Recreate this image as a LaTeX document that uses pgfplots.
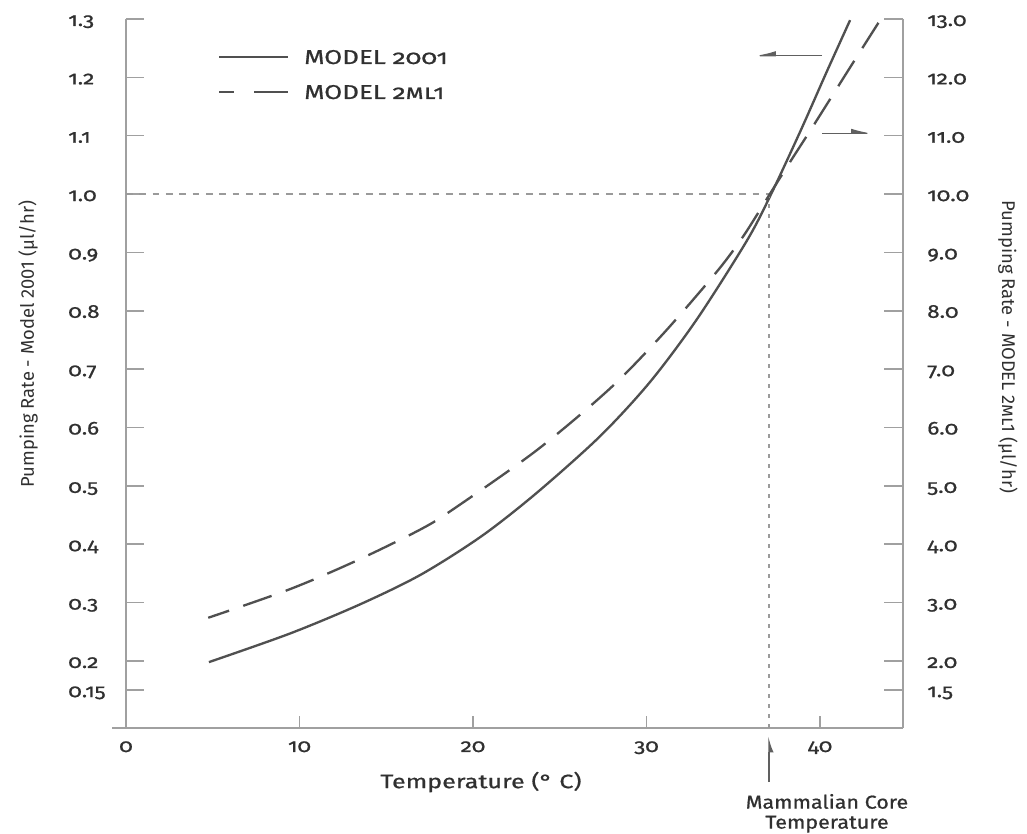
\documentclass[border=0pt]{standalone}
\usepackage{fontspec}
\setmainfont{Fira Sans}[Numbers=OldStyle]
\newfontfamily\tickfont{Fira Sans}[Numbers=OldStyle, FakeStretch=1.2, FakeBold=0.8]
\newfontfamily\labfont{Fira Sans}[Numbers=Lining]
\newfontfamily\widefont{Fira Sans}[Numbers=OldStyle, FakeStretch=1.3, FakeBold=0.8]
\newfontfamily\midfont{Fira Sans}[Numbers=OldStyle, FakeStretch=1.15, FakeBold=0.8]
\usepackage{pgfplots}
\pgfplotsset{compat=1.18}
\usetikzlibrary{arrows.meta}
\definecolor{axisgray}{HTML}{A0A0A0}
\definecolor{curve}{HTML}{505050}
\definecolor{txt}{HTML}{303030}
\definecolor{guide}{HTML}{9A9A9A}
\definecolor{arrowc}{HTML}{606060}
\begin{document}
\begin{tikzpicture}
% ---------- x axis ----------
\begin{axis}[
  at={(-10.5pt,0pt)}, anchor=south west, scale only axis,
  width=593.25pt, height=531.75pt,
  xmin=-0.807, xmax=44.78, ymin=0.0851, ymax=1.3,
  axis x line*=bottom, axis y line=none,
  axis line style={-, draw=axisgray, line width=2pt},
  xtick={0,10,20,30,40}, xticklabels={0,10,20,30,40},
  tick align=inside, major tick length=9pt,
  tick style={draw=axisgray, line width=1.1pt},
  xticklabel style={font=\tickfont\fontsize{14pt}{16pt}\selectfont, text=txt, anchor=base, yshift=-18pt, inner sep=0pt},
  xlabel={Temperature (° C)},
  xlabel style={at={(axis description cs:0.4665,-0.0762)}, anchor=center, font=\widefont\fontsize{14.5pt}{16pt}\selectfont, text=txt},
]
\end{axis}
% ---------- left y axis, Model 2001 ----------
\begin{axis}[
  at={(0pt,0pt)}, anchor=south west, scale only axis,
  width=582.75pt, height=531.75pt,
  xmin=0, xmax=44.78, ymin=0.0851, ymax=1.3,
  axis y line*=left, axis x line=none,
  axis line style={-, draw=axisgray, line width=2pt},
  ytick={0.15,0.2,0.3,0.4,0.5,0.6,0.7,0.8,0.9,1.0,1.1,1.2,1.3},
  yticklabels={0.15,0.2,0.3,0.4,0.5,0.6,0.7,0.8,0.9,1.0,1.1,1.2,1.3},
  tick align=inside, major tick length=13.5pt,
  tick style={draw=axisgray, line width=1.1pt},
  yticklabel style={font=\tickfont\fontsize{14pt}{16pt}\selectfont, text=txt, anchor=base west, xshift=-43.5pt, yshift=-5.25pt, inner sep=0pt},
  ylabel={Pumping Rate - Model 2001 (µl/hr)},
  ylabel style={at={(axis description cs:-0.1261,0.5416)}, anchor=center, font=\labfont\fontsize{13.8pt}{16pt}\selectfont, text=txt},
  clip=false,
  legend image code/.code={\draw[#1] (0pt,0pt) -- (51.75pt,0pt);},
  legend style={draw=none, fill=none, inner sep=0pt, row sep=15.75pt,
    at={(axis description cs:0.118,0.9217)}, anchor=west,
    font=\widefont\fontsize{15pt}{17pt}\selectfont, text=txt,
    nodes={inner sep=0pt, text height=10.5pt, text depth=0pt},
    /tikz/every odd column/.style={column sep=11.25pt}},
  legend cell align=left,
]
\addplot[draw=curve, line width=1.75pt, smooth] coordinates {
(4.78,0.198) (9.45,0.247) (13.49,0.297) (17.0,0.348) (20.5,0.414)
(23.67,0.488) (27.32,0.585) (30.20,0.678) (32.89,0.785) (35.78,0.920)
(37.18,1.000) (38.90,1.110) (40.39,1.210) (41.73,1.298)};
\addlegendentry{MODEL 2001}
\addlegendimage{draw=curve, line width=1.75pt, dash pattern=on 11.25pt off 15pt on 25.5pt off 5pt}
\addlegendentry{MODEL \textsc{2ml1}}
\addplot[guide, line width=1.1pt, dash pattern=on 5pt off 5pt, forget plot] coordinates {(0,1) (37.1,1)};
\addplot[guide, line width=1.1pt, dash pattern=on 3pt off 4.5pt, forget plot] coordinates {(37.05,1) (37.05,0.0851)};
\draw[arrowc, line width=0.9pt, -{Latex[right, length=15pt, width=7pt]}] (axis cs:40.12,1.237) -- (axis cs:36.08,1.237);
\draw[arrowc, line width=0.9pt, -{Latex[left, length=15pt, width=7pt]}] (axis cs:40.12,1.104) -- (axis cs:43.17,1.104);
\draw[arrowc, line width=1.1pt, -{Latex[right, length=10pt, width=7pt]}] ([yshift=-40.5pt]axis cs:37.06,0.0851) -- ([yshift=-6pt]axis cs:37.06,0.0851);
\node[align=center, font=\midfont\fontsize{14pt}{15pt}\selectfont, text=txt] at ([yshift=-64pt]axis cs:40.4,0.0851) {Mammalian Core\\Temperature};
\end{axis}
% ---------- right y axis, Model 2ML1 ----------
\begin{axis}[
  at={(0pt,0pt)}, anchor=south west, scale only axis,
  width=582.75pt, height=531.75pt,
  xmin=0, xmax=44.78, ymin=0.851, ymax=13,
  axis y line*=right, axis x line=none,
  axis line style={-, draw=axisgray, line width=2pt},
  ytick={1.5,2,3,4,5,6,7,8,9,10,11,12,13},
  yticklabels={1.5,2.0,3.0,4.0,5.0,6.0,7.0,8.0,9.0,10.0,11.0,12.0,13.0},
  tick align=inside, major tick length=14pt,
  tick style={draw=axisgray, line width=1.1pt},
  yticklabel style={font=\tickfont\fontsize{14pt}{16pt}\selectfont, text=txt, anchor=base west, xshift=18pt, yshift=-5.25pt, inner sep=0pt},
  ylabel={Pumping Rate - MODEL \textsc{2ml1} (µl/hr)},
  ylabel style={at={(axis description cs:1.1351,0.5374)}, anchor=center, rotate=180, font=\labfont\fontsize{13.8pt}{16pt}\selectfont, text=txt},
  clip=false,
]
\addplot[draw=curve, line width=1.75pt, smooth, dash pattern=on 22.5pt off 11.25pt, dash phase=6pt] coordinates {
(4.74,2.74) (9.45,3.23) (13.30,3.72) (16.95,4.25) (18.86,4.60) (23.67,5.61)
(27.9,6.67) (30.97,7.61) (34.05,8.67) (35.58,9.28) (37.02,9.96) (38.27,10.55)
(39.61,11.17) (41.73,12.17) (43.46,12.98)};
\end{axis}
\pgfresetboundingbox
\path[use as bounding box] (-94.5pt,-79.5pt) rectangle (675.75pt,546pt);
\end{tikzpicture}
\end{document}
